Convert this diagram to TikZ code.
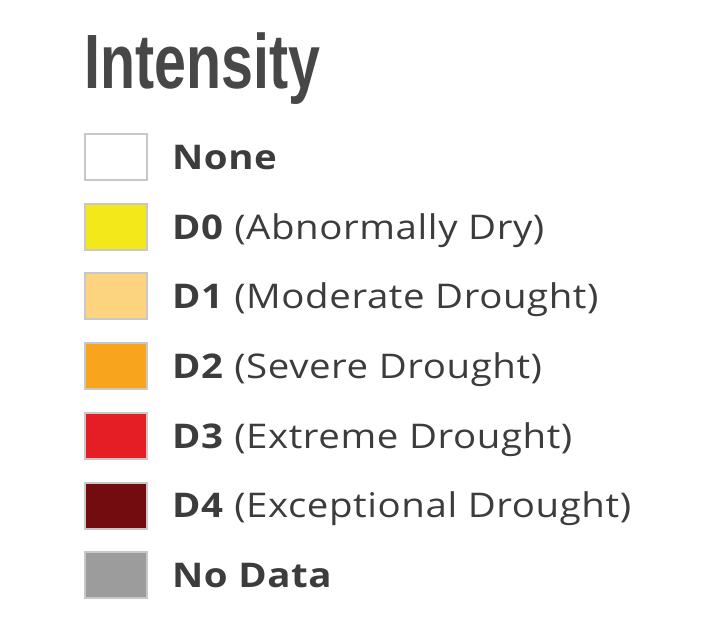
\documentclass[tikz,border=0pt]{standalone}
\usepackage{fontspec}
\setmainfont{Open Sans}[LetterSpace=1.5]
\newfontfamily\titlefont{Liberation Sans}
\definecolor{txt}{HTML}{3C3C3C}
\definecolor{ttl}{HTML}{474747}
\definecolor{edge}{HTML}{C8C8C8}
\definecolor{cnone}{HTML}{FFFFFF}
\definecolor{cdzero}{HTML}{F2E81A}
\definecolor{cdone}{HTML}{FCD37F}
\definecolor{cdtwo}{HTML}{F8A51D}
\definecolor{cdthree}{HTML}{E51E25}
\definecolor{cdfour}{HTML}{730C0E}
\definecolor{cnodata}{HTML}{9C9C9C}
\newcommand{\widetext}[1]{\scalebox{1.13}[1]{#1}}
\tikzset{
  swatch/.style={draw=edge, line width=2pt, minimum width=62pt, minimum height=46pt, inner sep=0pt, anchor=center},
  lab/.style={anchor=base west, inner sep=0pt, text=txt, font=\fontsize{34}{40}\selectfont},
}
\begin{document}
\begin{tikzpicture}[x=1pt,y=-1pt]
\useasboundingbox[fill=white] (0,0) rectangle (703,632);
\node[anchor=base west, inner sep=0pt, text=ttl] (title) at (84,88.5)
  {\scalebox{0.745}[1]{\titlefont\bfseries\fontsize{77}{80}\selectfont Intensity}};
\foreach \i/\c/\nm/\t in {
  0/cnone/none/{\textbf{None}},
  1/cdzero/dzero/{\textbf{D0} (Abnormally Dry)},
  2/cdone/done/{\textbf{D1} (Moderate Drought)},
  3/cdtwo/dtwo/{\textbf{D2} (Severe Drought)},
  4/cdthree/dthree/{\textbf{D3} (Extreme Drought)},
  5/cdfour/dfour/{\textbf{D4} (Exceptional Drought)},
  6/cnodata/nodata/{\textbf{No Data}}} {
  \pgfmathsetmacro{\yc}{157+69.7*\i}
  \node[swatch, fill=\c] (sw\nm) at (116.3,\yc) {};
  \node[lab] (lab\nm) at (172,\yc+12.3) {\widetext{\t}};
}
\end{tikzpicture}
\end{document}
